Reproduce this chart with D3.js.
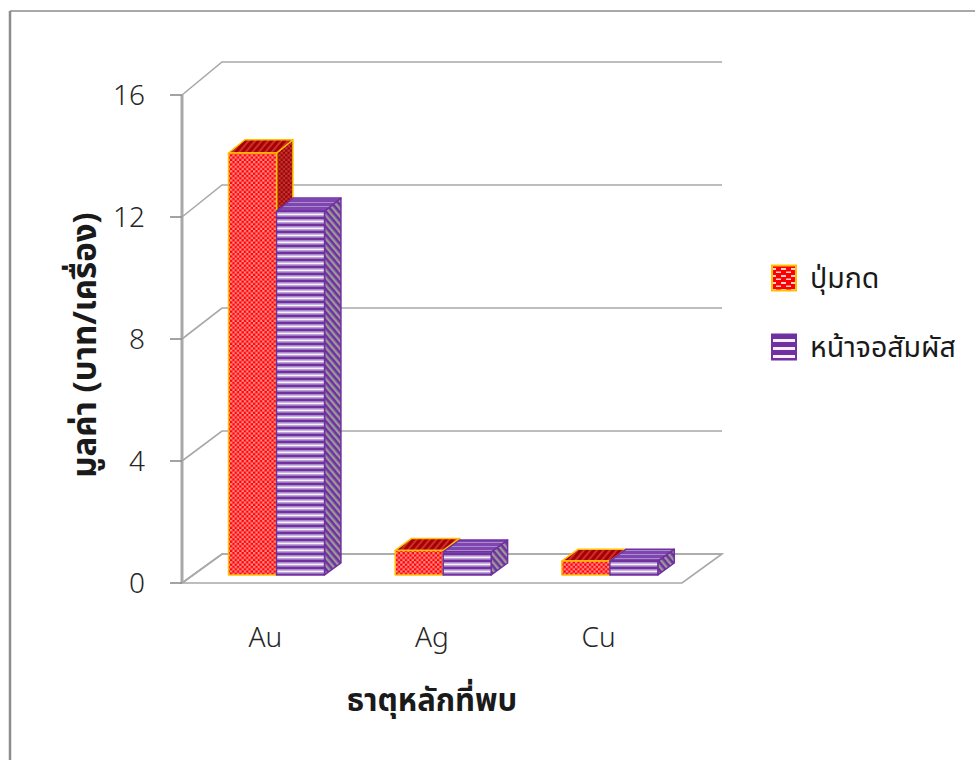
<!DOCTYPE html>
<html>
<head>
<meta charset="utf-8">
<script src="https://cdn.jsdelivr.net/npm/d3@7"></script>
<style>
  html, body { margin: 0; padding: 0; background: #ffffff; }
  svg { display: block; }
  .tick-label, .cat-label { font-family: "Noto Sans", "DejaVu Sans", sans-serif; font-weight: 300; fill: #262626; }
  .thai { font-family: "Noto Sans Thai", "Noto Sans", "DejaVu Sans", sans-serif; fill: #1a1a1a; }
</style>
</head>
<body>
<svg id="chart" width="975" height="760"></svg>
<script>
// Chart data
const categories = ["Au", "Ag", "Cu"];
const seriesNames = ["ปุ่มกด", "หน้าจอสัมผัส"];
const keypadValues = [13.8, 0.8, 0.45];
const touchValues = [11.9, 0.75, 0.45];
const yTicks = [0, 4, 8, 12, 16];
const yTitle = "มูลค่า (บาท/เครื่อง)";
const xTitle = "ธาตุหลักที่พบ";

const svg = d3.select("#chart");

// Pseudo-3D frame: front plane and back wall scales, depth offset
const floorLeft = 182, floorRight = 682, depthDx = 40;
const yFront = d3.scaleLinear().domain([0, 16]).range([583, 95]);
const yBack = d3.scaleLinear().domain([0, 16]).range([554, 62]);
const x0 = d3.scaleBand().domain(categories).range([floorLeft, floorRight]).paddingInner(0).paddingOuter(0);
const x1 = d3.scaleBand().domain(seriesNames).range([0, x0.bandwidth()]).paddingInner(0).paddingOuter(0.736);
const barFront = 0.28, barBack = 0.69;

function proj(x, v, f) {
  return [x + f * depthDx, yFront(v) + f * (yBack(v) - yFront(v))];
}

// Patterns
const defs = svg.append("defs");
function pat(id, w, h, bg, draw, transform) {
  const p = defs.append("pattern").attr("id", id).attr("patternUnits", "userSpaceOnUse")
    .attr("width", w).attr("height", h);
  if (transform) p.attr("patternTransform", transform);
  p.append("rect").attr("width", w).attr("height", h).attr("fill", bg);
  draw(p);
}
// red checker (front)
pat("redFront", 4.6, 4.6, "#ff0000", p => {
  p.append("rect").attr("x", 0).attr("y", 0).attr("width", 2.3).attr("height", 2.3).attr("fill", "#ff8a8a");
  p.append("rect").attr("x", 2.3).attr("y", 2.3).attr("width", 2.3).attr("height", 2.3).attr("fill", "#ff8a8a");
});
pat("redSide", 4.6, 4.6, "#a00000", p => {
  p.append("rect").attr("x", 0).attr("y", 0).attr("width", 2.3).attr("height", 2.3).attr("fill", "#c03838");
  p.append("rect").attr("x", 2.3).attr("y", 2.3).attr("width", 2.3).attr("height", 2.3).attr("fill", "#c03838");
});
pat("redTop", 5, 5, "#a80000", p => {
  p.append("rect").attr("width", 2).attr("height", 5).attr("fill", "#c83030");
}, "rotate(40)");
// purple stripes (front)
pat("purpleFront", 7, 7, "#7030a0", p => {
  p.append("rect").attr("y", 2.2).attr("width", 7).attr("height", 1.2).attr("fill", "#b9a0d6");
  p.append("rect").attr("y", 3.4).attr("width", 7).attr("height", 2.2).attr("fill", "#f6f2fb");
  p.append("rect").attr("y", 5.6).attr("width", 7).attr("height", 1).attr("fill", "#b9a0d6");
});
pat("purpleSide", 5, 5, "#7030a0", p => {
  p.append("rect").attr("width", 2.4).attr("height", 5).attr("fill", "#9a9a9a");
}, "rotate(-40)");
pat("purpleTop", 4, 4, "#7f45b0", p => {
  p.append("rect").attr("y", 2).attr("width", 4).attr("height", 1).attr("fill", "#a88cc8");
});
// legend swatches
pat("redLegend", 10, 7, "#ff0000", p => {
  p.append("rect").attr("x", 1).attr("y", 2).attr("width", 5).attr("height", 2).attr("fill", "#ffd0d0");
  p.append("rect").attr("x", 6).attr("y", 5.5).attr("width", 5).attr("height", 2).attr("fill", "#ffd0d0");
  p.append("rect").attr("x", -4).attr("y", 5.5).attr("width", 5).attr("height", 2).attr("fill", "#ffd0d0");
});
pat("purpleLegend", 8, 8, "#7030a0", p => {
  p.append("rect").attr("y", 3).attr("width", 8).attr("height", 3).attr("fill", "#f4effa");
});

// Outer frame
svg.append("line").attr("x1", 10).attr("y1", 11).attr("x2", 975).attr("y2", 11)
  .attr("stroke", "#8c8c8c").attr("stroke-width", 1.5);
svg.append("line").attr("x1", 10).attr("y1", 11).attr("x2", 10).attr("y2", 760)
  .attr("stroke", "#8c8c8c").attr("stroke-width", 2.5);

const gridColor = "#a8a8a8";
const walls = svg.append("g");

// Floor outline
const floorPts = [proj(floorLeft, 0, 0), proj(floorRight, 0, 0), proj(floorRight, 0, 1), proj(floorLeft, 0, 1)];
walls.append("polygon").attr("points", floorPts.map(p => p.join(",")).join(" "))
  .attr("fill", "none").attr("stroke", gridColor).attr("stroke-width", 1.6);

// Back wall gridlines and left wall diagonals
yTicks.forEach(v => {
  const a = proj(floorLeft, v, 0), b = proj(floorLeft, v, 1), c = proj(floorRight, v, 1);
  walls.append("polyline").attr("points", [a, b, c].map(p => p.join(",")).join(" "))
    .attr("fill", "none").attr("stroke", gridColor).attr("stroke-width", 1.6);
});

// Value axis
walls.append("line").attr("x1", floorLeft).attr("x2", floorLeft)
  .attr("y1", yFront(0)).attr("y2", yFront(16)).attr("stroke", gridColor).attr("stroke-width", 3);
walls.selectAll(".tk").data(yTicks).join("line")
  .attr("x1", floorLeft - 12).attr("x2", floorLeft).attr("y1", d => yFront(d)).attr("y2", d => yFront(d))
  .attr("stroke", "#8c8c8c").attr("stroke-width", 1.6);
svg.selectAll(".tick-label").data(yTicks).join("text").attr("class", "tick-label")
  .attr("x", 145).attr("y", d => yFront(d)).attr("dy", "0.36em").attr("text-anchor", "end")
  .attr("font-size", 28).text(d => d);

// Bars
const series = [
  { name: seriesNames[0], values: keypadValues, front: "url(#redFront)", side: "url(#redSide)", top: "url(#redTop)", edge: "#ffc000" },
  { name: seriesNames[1], values: touchValues, front: "url(#purpleFront)", side: "url(#purpleSide)", top: "url(#purpleTop)", edge: "#7030a0" }
];
const bars = svg.append("g");
categories.forEach((cat, i) => {
  series.forEach(s => {
    const v = s.values[i];
    const xl = x0(cat) + x1(s.name), xr = xl + x1.bandwidth();
    const fl0 = proj(xl, 0, barFront), fr0 = proj(xr, 0, barFront);
    const flv = proj(xl, v, barFront), frv = proj(xr, v, barFront);
    const blv = proj(xl, v, barBack), brv = proj(xr, v, barBack), br0 = proj(xr, 0, barBack);
    const poly = (pts, fill) => bars.append("polygon").attr("points", pts.map(p => p.join(",")).join(" "))
      .attr("fill", fill).attr("stroke", s.edge).attr("stroke-width", 1.5).attr("stroke-linejoin", "round");
    poly([frv, brv, br0, fr0], s.side);
    poly([flv, frv, brv, blv], s.top);
    poly([flv, frv, fr0, fl0], s.front);
  });
});

// Category labels
svg.selectAll(".cat-label").data(categories).join("text").attr("class", "cat-label")
  .attr("x", d => x0(d) + x0.bandwidth() / 2).attr("y", 637).attr("dy", "0.36em")
  .attr("text-anchor", "middle").attr("font-size", 28).text(d => d);

// Axis titles
svg.append("text").attr("class", "thai").attr("transform", "translate(84,345) rotate(-90)")
  .attr("text-anchor", "middle").attr("dy", "0.36em").attr("font-size", 33).attr("font-weight", "bold").text(yTitle);
svg.append("text").attr("class", "thai").attr("x", 432).attr("y", 700)
  .attr("text-anchor", "middle").attr("dy", "0.36em").attr("font-size", 31).attr("font-weight", "bold").text(xTitle);

// Legend
const legend = svg.append("g");
const legendItems = [
  { name: seriesNames[0], fill: "url(#redLegend)", edge: "#ffc000", y: 278 },
  { name: seriesNames[1], fill: "url(#purpleLegend)", edge: "#7030a0", y: 347 }
];
legendItems.forEach(d => {
  legend.append("rect").attr("x", 772).attr("y", d.y - 12.5).attr("width", 24).attr("height", 25)
    .attr("fill", d.fill).attr("stroke", d.edge).attr("stroke-width", 2);
  legend.append("text").attr("class", "thai").attr("x", 810).attr("y", d.y).attr("dy", "0.36em")
    .attr("font-size", 28.5).text(d.name);
});
</script>
</body>
</html>
